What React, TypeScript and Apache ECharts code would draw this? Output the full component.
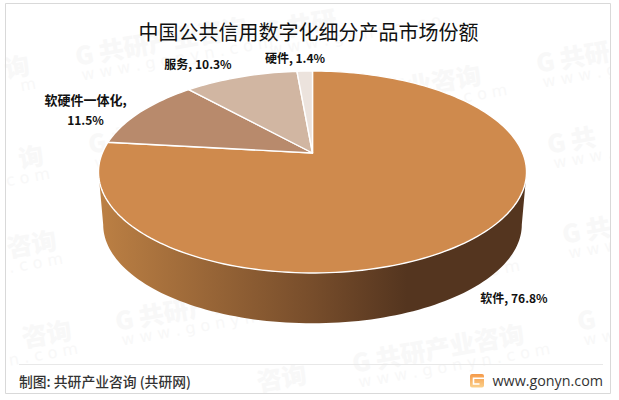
import React, { useEffect, useRef } from "react";
import * as echarts from "echarts";

const categories = ["软件", "软硬件一体化", "服务", "硬件"];
const shares = [76.8, 11.5, 10.3, 1.4];
const sliceColors = ["#CF8A4D", "#B88A6C", "#D1B6A2", "#ECE3DD"];
const labelLines = [
  ["软件, 76.8%"],
  ["软硬件一体化,", "11.5%"],
  ["服务, 10.3%"],
  ["硬件, 1.4%"],
];
const titleText = "中国公共信用数字化细分产品市场份额";
const sourceText = "制图: 共研产业咨询 (共研网)";
const siteText = "www.gonyn.com";

// perspective pie geometry
const CX = 312.5, CY = 153, A = 210.2, B = 97.4, K = 0.188, BOTTOM_Y = 53, BOTTOM_SCALE = 0.978;
const labelAnchors = [
  [514, 297],
  [85.5, 99],
  [198, 63],
  [295, 57.5],
];
const labelFonts = [12, 13, 12, 12];

function project(deg: number, depth: boolean) {
  const t = (deg * Math.PI) / 180;
  const u = Math.sin(t), v = -Math.cos(t);
  const d = 1 - K * v;
  let x = (A * u) / d, y = (B * v) / d;
  if (depth) {
    x *= BOTTOM_SCALE;
    y = y * BOTTOM_SCALE + BOTTOM_Y;
  }
  return [CX + x, CY + y];
}

function arc(from: number, to: number, depth: boolean) {
  const pts: number[][] = [];
  const n = Math.max(2, Math.ceil(Math.abs(to - from) / 1.5));
  for (let i = 0; i <= n; i++) pts.push(project(from + ((to - from) * i) / n, depth));
  return pts;
}

const startAngles: number[] = [];
shares.reduce((acc, s) => {
  startAngles.push(acc);
  return acc + s;
}, 0);

const WALL_FROM = 100.8, WALL_TO = 259.2;

// faint background marks: x, y of the line start or end, align, name text, site text
type Mark = [number, number, "left" | "right", string, string];
const leftMarks: Mark[] = [
  [75, 55, "left", "G 共研产业咨询", "w w w . g o n y n . c o m"],
  [263, 30, "left", "G 共研", "w w w . g o n y n . c o"],
  [309, 103, "left", "G 共研产业咨询", "w w w . g o n y n . c o m"],
  [536, 62, "left", "G 共研", "w w w . g"],
  [547, 143, "left", "G 共", "w w w ."],
  [88, 143, "left", "G 共研产业咨询", "w w w . g o n y n . c o m"],
  [115, 320, "left", "G 共研产业咨询", "w w w . g o n y n . c o m"],
  [352, 362, "left", "G 共研产业咨询", "w w w . g o n y n . c o m"],
  [562, 233, "left", "G 共", "w w w"],
  [577, 320, "left", "G", "w w"],
];
const rightMarks: Mark[] = [
  [29, 63, "right", "询", "m"],
  [43, 153, "right", "询", "c o m"],
  [56, 238, "right", "咨询", ". c o m"],
  [71, 328, "right", "咨询", "n . c o m"],
  [306, 372, "right", "咨询", ""],
  [513, 245, "right", "业咨询", ". c o m"],
];

export default function App() {
  const ref = useRef<HTMLDivElement>(null);
  useEffect(() => {
    document.body.style.margin = "0";
    const chart = echarts.init(ref.current!, undefined, { renderer: "svg" });
    const cjk = '"Noto Sans CJK SC", sans-serif';
    const wmFill = "#F8F8F8";
    const wm: any[] = [...leftMarks, ...rightMarks].map(([x, y, align, name, site]) => ({
      type: "group", x, y, rotation: (10 * Math.PI) / 180, z: 0, silent: true,
      children: [
        { type: "text", x: 0, y: 0, style: { text: name, font: `900 25px ${cjk}`, fill: wmFill, align, verticalAlign: "middle" } },
        ...(site
          ? [{ type: "text", x: 3, y: 21, style: { text: site, font: `400 16px "DejaVu Sans"`, fill: wmFill, align, verticalAlign: "middle" } }]
          : []),
      ],
    }));

    chart.setOption({
      animation: false,
      backgroundColor: "#fff",
      graphic: [
        ...wm,
        { type: "rect", z: 1, silent: true, shape: { x: 0, y: 0, width: 619, height: 3.5 }, style: { fill: "#fff" } },
        { type: "rect", z: 1, silent: true, shape: { x: 610.5, y: 0, width: 9, height: 400 }, style: { fill: "#fff" } },
        { type: "rect", z: 1, silent: true, shape: { x: 0, y: 393.5, width: 619, height: 7 }, style: { fill: "#fff" } },
        { type: "rect", z: 1, silent: true, shape: { x: 5.5, y: 3.5, width: 605, height: 390 }, style: { fill: "none", stroke: "#D9D9D9", lineWidth: 1 } },
        { type: "line", z: 1, silent: true, shape: { x1: 19, y1: 364.5, x2: 603, y2: 364.5 }, style: { stroke: "#E8E8E8", lineWidth: 1 } },
        { type: "text", z: 5, x: 308.5, y: 31, style: { text: titleText, font: `400 20px ${cjk}`, fill: "#111", align: "center", verticalAlign: "middle" } },
        { type: "text", z: 5, x: 19, y: 381, style: { text: sourceText, font: `500 13.8px ${cjk}`, fill: "#333", align: "left", verticalAlign: "middle" } },
        { type: "text", z: 5, x: 603, y: 380, style: { text: siteText, font: `400 14.3px "Open Sans"`, fill: "#333", align: "right", verticalAlign: "middle" } },
        {
          type: "rect", z: 5, silent: true, shape: { x: 470, y: 374, width: 14, height: 13.5, r: 2 },
          style: { fill: new echarts.graphic.LinearGradient(0, 0, 0, 1, [{ offset: 0, color: "#F59A4A" }, { offset: 1, color: "#FBD08A" }]) },
        },
        { type: "polyline", z: 6, silent: true, shape: { points: [[484.5, 378.2], [473.5, 378.2], [473.5, 384], [479.5, 384]] }, style: { fill: "none", stroke: "#fff", lineWidth: 1.6 } },
      ],
      series: [
        {
          type: "custom",
          name: categories.join("/"),
          coordinateSystem: "none",
          clip: false,
          z: 3,
          data: shares.map((v, i) => [v, i]),
          renderItem: (_p: any, api: any) => {
            const value = api.value(0) as number;
            const i = api.value(1) as number;
            const from = (startAngles[i] / 100) * 360;
            const to = ((startAngles[i] + value) / 100) * 360;
            const children: any[] = [];
            const wf = Math.max(from, WALL_FROM), wt = Math.min(to, WALL_TO);
            if (wt > wf) {
              children.push({
                type: "polygon",
                shape: { points: [...arc(wf, wt, false), ...arc(wt, wf, true)] },
                style: {
                  fill: new echarts.graphic.LinearGradient(0, 0, 1, 0, [
                    { offset: 0, color: "#BC8044" },
                    { offset: 0.5, color: "#774D2B" },
                    { offset: 0.72, color: "#54351F" },
                    { offset: 1, color: "#54351F" },
                  ]),
                },
              });
            }
            children.push({
              type: "polygon",
              shape: { points: [[CX, CY], ...arc(from, to, false)] },
              style: { fill: sliceColors[i], stroke: "#fff", lineWidth: 1.4, lineJoin: "round" },
            });
            labelLines[i].forEach((line, j) => {
              children.push({
                type: "text",
                x: labelAnchors[i][0],
                y: labelAnchors[i][1] + j * 20,
                style: { text: line, font: `700 ${j === 0 ? labelFonts[i] : 12}px ${cjk}`, fill: "#111", align: "center", verticalAlign: "middle" },
                z2: 5,
              });
            });
            return { type: "group", children };
          },
        },
      ],
    });
    return () => chart.dispose();
  }, []);
  return <div ref={ref} style={{ position: "fixed", left: 0, top: 0, width: 619, height: 400 }} />;
}
